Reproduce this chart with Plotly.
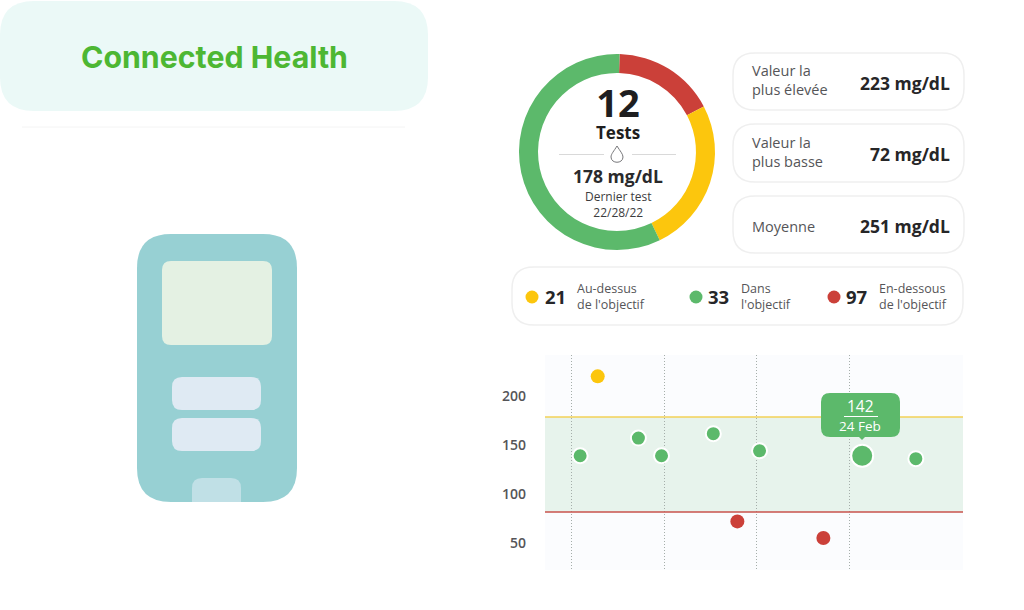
import plotly.graph_objs as go

# Donut
ring_labels = ['En-dessous', 'Au-dessus', 'Dans']
ring_values = [16.9, 25.5, 57.6]

# Scatter, x in days of February
in_range_days = [21.09, 21.72, 21.97, 22.53, 23.03, 24.72]
in_range_values = [139, 157, 139, 161.5, 144, 136]
above_days = [21.28]
above_values = [220]
below_days = [22.79, 23.72]
below_values = [72, 55]
selected_day = [24.14]
selected_value = [139]
selected_label = '142'
selected_date = '24 Feb'
limit_high = 178.5
limit_low = 81.6
y_ticks = [50, 100, 150, 200]
x_grid = [21, 22, 23, 24]

# Cards
stat_lines = [['Valeur la', 'plus élevée'], ['Valeur la', 'plus basse'], ['Moyenne']]
stat_values = ['223 mg/dL', '72 mg/dL', '251 mg/dL']
legend_counts = ['21', '33', '97']
legend_lines = [['Au-dessus', "de l'objectif"], ['Dans', "l'objectif"], ['En-dessous', "de l'objectif"]]

GREEN = '#5cb96b'
RED = '#cb4039'
YELLOW = '#fcc60d'
DARK = '#1c1c1e'
GREY = '#555558'
FONT = 'Open Sans'
W = 1024
H = 610


def px(x):
    return x / W


def py(y):
    return 1 - y / H


def round_box(x0, y0, x1, y1, r, fill, line=None, r_bottom=None):
    # rounded rectangle, given in pixels of the page
    rb = r if r_bottom is None else r_bottom
    pts = [
        f'M {px(x0 + r)} {py(y0)}', f'L {px(x1 - r)} {py(y0)}',
        f'Q {px(x1)} {py(y0)} {px(x1)} {py(y0 + r)}', f'L {px(x1)} {py(y1 - rb)}',
        f'Q {px(x1)} {py(y1)} {px(x1 - rb)} {py(y1)}', f'L {px(x0 + rb)} {py(y1)}',
        f'Q {px(x0)} {py(y1)} {px(x0)} {py(y1 - rb)}', f'L {px(x0)} {py(y0 + r)}',
        f'Q {px(x0)} {py(y0)} {px(x0 + r)} {py(y0)}', 'Z',
    ]
    return dict(type='path', xref='paper', yref='paper', path=' '.join(pts), fillcolor=fill,
                line=dict(color=line or fill, width=1.5 if line else 0), layer='below')


def label(x, y, text, size, color=DARK, bold=False, anchor='center', family=FONT):
    # annotations keep a small padding, so the anchors are pushed out by 2px
    if anchor == 'left':
        x -= 2
    if anchor == 'right':
        x += 2
    return dict(xref='paper', yref='paper', x=px(x), y=py(y), text=text, showarrow=False,
                xanchor=anchor, yanchor='middle',
                font=dict(family=family, size=size, color=color, weight=700 if bold else 400))


def hline(x0, x1, y, color, width=1):
    return dict(type='line', xref='paper', yref='paper', x0=px(x0), x1=px(x1), y0=py(y), y1=py(y),
                line=dict(color=color, width=width))


def dot(cx, cy, r, color):
    return dict(type='circle', xref='paper', yref='paper', x0=px(cx - r), x1=px(cx + r),
                y0=py(cy + r), y1=py(cy - r), fillcolor=color, line=dict(width=0))


fig = go.Figure()

fig.add_trace(go.Pie(labels=ring_labels, values=ring_values, hole=0.806, sort=False, direction='clockwise',
                     rotation=1.5, textinfo='none', showlegend=False,
                     marker=dict(colors=[RED, YELLOW, GREEN], line=dict(width=0)),
                     domain=dict(x=[px(519), px(715)], y=[py(250), py(54)])))

point_line = dict(color='white', width=2)
fig.add_trace(go.Scatter(x=in_range_days, y=in_range_values, mode='markers', showlegend=False,
                         marker=dict(size=15, color=GREEN, line=point_line)))
fig.add_trace(go.Scatter(x=above_days, y=above_values, mode='markers', showlegend=False,
                         marker=dict(size=14, color=YELLOW, line=dict(width=0))))
fig.add_trace(go.Scatter(x=below_days, y=below_values, mode='markers', showlegend=False,
                         marker=dict(size=14, color=RED, line=dict(width=0))))
fig.add_trace(go.Scatter(x=selected_day, y=selected_value, mode='markers', showlegend=False,
                         marker=dict(size=22, color=GREEN, line=point_line)))

shapes = [
    round_box(0, 1, 428, 111, 34, '#ebf9f7'),
    hline(22, 405, 127, '#f4f4f4'),
    # meter
    round_box(137, 234, 297, 502, 34, '#97d0d3'),
    round_box(162, 261, 272, 345, 9, '#e4f1e3'),
    round_box(172, 377, 261, 410, 10, '#dfeaf3'),
    round_box(172, 418, 261, 451, 10, '#dfeaf3'),
    round_box(192, 478, 241, 502, 10, '#c0e0e6', r_bottom=0.01),
    # cards
    round_box(733, 53, 964, 110, 22, 'white', '#efefef'),
    round_box(733, 124, 964, 182, 22, 'white', '#efefef'),
    round_box(733, 196, 964, 253, 22, 'white', '#efefef'),
    round_box(512, 267, 963, 325, 22, 'white', '#efefef'),
    # middle of the ring
    hline(559, 604, 154.5, '#d9d9d9'),
    hline(632, 676, 154.5, '#d9d9d9'),
    dict(type='path', xref='paper', yref='paper',
         path=f'M {px(617)} {py(146)} C {px(614)} {py(151)} {px(611)} {py(154)} {px(611)} {py(157)} '
              f'C {px(611)} {py(164)} {px(623)} {py(164)} {px(623)} {py(157)} '
              f'C {px(623)} {py(154)} {px(620)} {py(151)} {px(617)} {py(146)} Z',
         fillcolor='white', line=dict(color='#77777a', width=1)),
    dot(532, 297, 6.5, YELLOW),
    dot(696, 297, 6.5, GREEN),
    dot(834, 297, 6.5, RED),
    # target band
    dict(type='rect', xref='x', yref='y', x0=20.71, x1=25.23, y0=limit_low, y1=limit_high,
         fillcolor='#e7f3ec', line=dict(width=0), layer='below'),
    dict(type='line', xref='x', yref='y', x0=20.71, x1=25.23, y0=limit_high, y1=limit_high,
         line=dict(color='#f3d257', width=1.5), layer='between'),
    dict(type='line', xref='x', yref='y', x0=20.71, x1=25.23, y0=limit_low, y1=limit_low,
         line=dict(color='#c9534c', width=1.5), layer='between'),
]

# tooltip
tip = round_box(821, 393, 900, 437, 9, GREEN)
tip['layer'] = 'above'
shapes.append(tip)
shapes.append(dict(type='path', xref='paper', yref='paper',
                   path=f'M {px(858)} {py(436)} L {px(866)} {py(436)} L {px(862)} {py(440)} Z',
                   fillcolor=GREEN, line=dict(width=0)))
shapes.append(hline(844, 878, 416.5, 'white', 1.2))

annotations = [
    label(214, 57.5, 'Connected Health', 30.3, '#4db733', True, family='Inter'),
    # same annotation, so the line gap stays as tight as in the reference
    label(618, 109.5, "<span style='font-size:38px'>12</span><br>Tests", 17, '#1e1e20', True),
    label(618, 176, '178 mg/dL', 17.5, '#2a2a2c', True),
    label(618, 204, 'Dernier test<br>22/28/22', 12, '#3c3c3e'),
]

stat_rows = [80, 152, 226]
value_rows = [83, 154, 226]
for lines, value, row, value_y in zip(stat_lines, stat_values, stat_rows, value_rows):
    annotations.append(dict(label(752, row, '<br>'.join(lines), 14.5, GREY, anchor='left'), align='left'))
    annotations.append(label(950, value_y, value, 17.5, '#262628', True, anchor='right'))

count_x = [545, 708, 846]
text_x = [577, 741, 879]
for count, lines, cx, tx in zip(legend_counts, legend_lines, count_x, text_x):
    annotations.append(label(cx, 297, count, 18.5, '#262628', True, anchor='left'))
    annotations.append(dict(label(tx, 296, '<br>'.join(lines), 12.5, GREY, anchor='left'), align='left'))

annotations.append(dict(x=selected_day[0], y=selected_value[0], xref='x', yref='y', text=selected_label,
                        showarrow=False, xshift=-2, yshift=50,
                        font=dict(family=FONT, size=15.5, color='white', weight=500)))
annotations.append(dict(x=selected_day[0], y=selected_value[0], xref='x', yref='y', text=selected_date,
                        showarrow=False, xshift=-2, yshift=30,
                        font=dict(family=FONT, size=13.5, color='white', weight=500)))

fig.update_layout(
    width=W, height=H, margin=dict(l=0, r=0, t=0, b=0),
    paper_bgcolor='white', plot_bgcolor='#fbfcfe',
    shapes=shapes, annotations=annotations,
    xaxis=dict(domain=[px(545), px(963)], range=[20.71, 25.23], tickvals=x_grid, showticklabels=False,
               showgrid=True, griddash='1px,2px', gridcolor='#a5aeaa', gridwidth=1, zeroline=False, showline=False),
    yaxis=dict(domain=[py(570), py(355)], range=[22.4, 241.8], tickvals=y_ticks, showgrid=False,
               zeroline=False, showline=False, ticks='', ticklabelstandoff=18,
               tickfont=dict(family=FONT, size=14, color=GREY, weight=600)),
)

fig.write_html('out.html', config=dict(displayModeBar=False), post_script="document.body.style.margin='0';")
